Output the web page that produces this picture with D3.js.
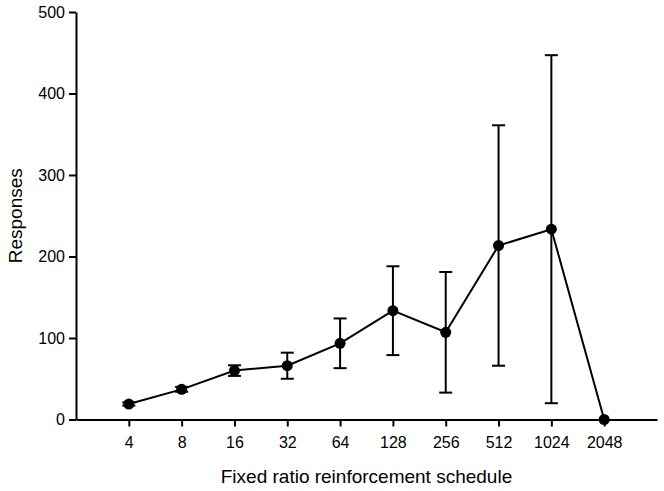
<!DOCTYPE html>
<html>
<head>
<meta charset="utf-8">
<script src="https://cdn.jsdelivr.net/npm/d3@7"></script>
<style>
  body { margin: 0; background: #fff; }
  svg { display: block; font-family: "Liberation Sans", Arial, sans-serif; }
</style>
</head>
<body>
<svg id="chart" width="664" height="491"></svg>
<script>
// schedule values (fixed ratio) and mean responses with error (SEM)
const schedules = [4, 8, 16, 32, 64, 128, 256, 512, 1024, 2048];
const responses = [19, 37, 60, 66, 93.5, 133.5, 107, 213.5, 233.5, 0];
const errors = [2, 3, 6.5, 16, 30.5, 54.5, 74, 147.5, 213.5, 0];
const yTicks = [0, 100, 200, 300, 400, 500];

const svg = d3.select('#chart');

// plot area
const plot = { left: 76, right: 657, top: 12, bottom: 419.5 };

const x = d3.scaleLog().base(2)
  .domain([2, 4096])
  .range([plot.left, plot.right]);

const y = d3.scaleLinear()
  .domain([0, 500])
  .range([plot.bottom, plot.top]);

const points = schedules.map((s, i) => ({ s, v: responses[i], e: errors[i] }));

// axes
const xAxis = svg.append('g')
  .attr('transform', `translate(0,${plot.bottom})`)
  .call(d3.axisBottom(x)
    .tickValues(schedules)
    .tickFormat(d3.format('d'))
    .tickSize(7)
    .tickSizeOuter(0)
    .tickPadding(10.5));

const yAxis = svg.append('g')
  .attr('transform', `translate(${plot.left},0)`)
  .call(d3.axisLeft(y)
    .tickValues(yTicks)
    .tickSize(7)
    .tickSizeOuter(0)
    .tickPadding(4));

[xAxis, yAxis].forEach(g => {
  g.select('.domain').attr('stroke', '#000').attr('stroke-width', 2);
  g.selectAll('.tick line').attr('stroke', '#000').attr('stroke-width', 2);
  g.selectAll('.tick text')
    .attr('fill', '#000')
    .style('font-size', '16px')
    .style('font-family', '"Liberation Sans", Arial, sans-serif');
});

// error bars
const bars = svg.append('g').attr('class', 'errors')
  .selectAll('g')
  .data(points.filter(d => d.e > 0))
  .enter()
  .append('g')
  .attr('stroke', '#000')
  .attr('stroke-width', 2);

bars.append('line')
  .attr('x1', d => x(d.s)).attr('x2', d => x(d.s))
  .attr('y1', d => y(d.v - d.e)).attr('y2', d => y(d.v + d.e));

bars.append('line')
  .attr('x1', d => x(d.s) - 6.5).attr('x2', d => x(d.s) + 6.5)
  .attr('y1', d => y(d.v + d.e)).attr('y2', d => y(d.v + d.e));

bars.append('line')
  .attr('x1', d => x(d.s) - 6.5).attr('x2', d => x(d.s) + 6.5)
  .attr('y1', d => y(d.v - d.e)).attr('y2', d => y(d.v - d.e));

// line
const line = d3.line()
  .x(d => x(d.s))
  .y(d => y(d.v));

svg.append('path')
  .datum(points)
  .attr('d', line)
  .attr('fill', 'none')
  .attr('stroke', '#000')
  .attr('stroke-width', 2);

// markers
svg.append('g')
  .selectAll('circle')
  .data(points)
  .enter()
  .append('circle')
  .attr('cx', d => x(d.s))
  .attr('cy', d => y(d.v))
  .attr('r', 5.5)
  .attr('fill', '#000');

// axis titles
svg.append('text')
  .attr('x', (plot.left + plot.right) / 2)
  .attr('y', 483)
  .attr('text-anchor', 'middle')
  .style('font-size', '19px')
  .text('Fixed ratio reinforcement schedule');

svg.append('text')
  .attr('transform', `translate(22,${(plot.top + plot.bottom) / 2}) rotate(-90)`)
  .attr('text-anchor', 'middle')
  .style('font-size', '19px')
  .text('Responses');
</script>
</body>
</html>
